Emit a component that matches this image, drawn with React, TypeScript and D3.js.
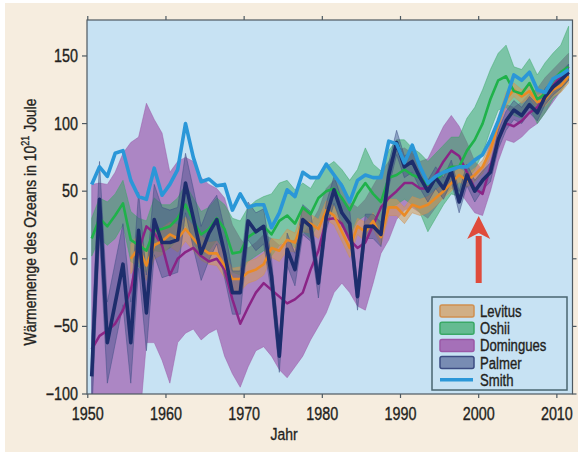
import React from 'react';
import * as d3 from 'd3';

// annual values (centre of each year), 10^21 J
const years = d3.range(1950, 2012);

const smith = [
  55, 68, 61, 78, 80, 58, 46, 44, 67, 47,
  55, 66, 100, 75, 57, 59, 54, 55, 36, 48,
  38, 40, 40, 23, 34, 51, 46, 64, 60, 60,
  70, 62, 54, 42, 58, 62, 60, 60, 87, 85,
  71, 84, 68, 56, 61, 64, 66, 68, 68, 73,
  77, 88, 102, 118, 136, 132, 138, 125, 123, 133,
  136, 140,
];

const oshii = [
  15, 30, 24, 32, 41, 14, 10, 6, 21, 22,
  24, 30, 40, 28, 18, 22, 30, 22, 4, 5,
  16, 20, 24, 18, 28, 32, 26, 38, 33, 45,
  50, 52, 45, 36, 48, 56, 48, 42, 60, 62,
  66, 62, 60, 55, 58, 64, 68, 68, 80, 88,
  100, 118, 132, 135, 124, 122, 130, 118, 122, 132,
  138, 142,
];
const oshiiHi = [
  30, 45, 42, 48, 58, 35, 30, 28, 45, 40,
  40, 45, 55, 45, 35, 38, 45, 40, 30, 28,
  38, 43, 46, 48, 56, 58, 51, 56, 52, 62,
  68, 72, 66, 58, 66, 82, 70, 65, 80, 88,
  88, 82, 78, 72, 78, 84, 90, 90, 104, 112,
  125, 140, 152, 158, 142, 140, 148, 136, 145, 152,
  158, 172,
];
const oshiiLo = [
  2, 15, 10, 15, 25, -2, -6, -10, 6, 5,
  8, 14, 25, 12, 2, 6, 14, 6, -10, -12,
  -2, 2, 6, 2, 10, 14, 8, 20, 15, 26,
  32, 34, 26, 16, 28, 32, 26, 20, 38, 40,
  44, 40, 34, 20, 30, 40, 48, 46, 58, 66,
  78, 95, 110, 112, 106, 104, 112, 100, 108, 118,
  124, 132,
];

const levitus = [
  null, null, null, null, null, 0, 8, -5, 10, 13,
  18, 15, 22, 15, 8, 4, 4, -5, -15, -15,
  -10, -8, -4, 8, 6, 14, 12, 28, 26, 22,
  36, 32, 20, 8, 24, 20, 28, 16, 38, 38,
  32, 40, 38, 40, 45, 50, 56, 62, 58, 62,
  68, 80, 100, 118, 125, 120, 124, 116, 118, 125,
  128, 135,
];
const levitusErr = [
  null, null, null, null, null, 11, 10, 11, 10, 10,
  9, 10, 9, 9, 9, 8, 9, 9, 8, 9,
  8, 8, 8, 7, 8, 8, 7, 8, 7, 7,
  7, 7, 7, 7, 6, 7, 6, 6, 6, 6,
  6, 6, 6, 6, 6, 5, 6, 5, 5, 5,
  5, 5, 5, 5, 5, 5, 5, 5, 5, 5,
  5, 5,
];

const domingues = [
  -67, -57, -53, -48, -38, -23, 6, 24, 19, 10,
  -12, 0, 5, 8, 2, -2, 0, -8, -30, -48,
  -36, -25, -18, -23, -28, -33, -30, -25, -8, 6,
  29, 30, 26, 14, 8, 12, 25, 38, 45, 50,
  56, 56, 52, 52, 62, 72, 80, 76, 64, 52,
  48, 68, 88, 100, 98, 102, 108, 112, 120, 128,
  135, 142,
];
const dominguesHi = [
  55, 56, 55, 64, 78, 86, 90, 115, 103, 93,
  64, 72, 75, 72, 60, 55, 52, 45, 25, 15,
  8, 12, 18, 15, 10, 12, 14, 18, 26, 36,
  52, 58, 56, 42, 38, 44, 54, 64, 72, 80,
  82, 78, 72, 74, 86, 98, 106, 98, 86, 72,
  66, 86, 102, 114, 112, 116, 122, 126, 134, 140,
  146, 152,
];
const dominguesLo = [
  -160, -160, -160, -155, -150, -140, -130, -62, -62, -75,
  -92, -62, -55, -52, -60, -55, -52, -72, -85, -95,
  -80, -68, -65, -72, -82, -88, -80, -72, -60, -50,
  -40, -25, -18, -25, -35, -38, -18, 4, 14, 29,
  36, 38, 34, 30, 38, 46, 52, 50, 42, 34,
  32, 50, 72, 88, 86, 90, 96, 100, 108, 116,
  124, 132,
];

const palmer = [
  -87, 44, -62, -33, -4, -62, 21, -40, 29, 12,
  12, 14, 56, 30, 4, 19, 29, 4, -25, -25,
  28, 20, 24, -13, -72, 7, -8, 29, 24, -18,
  31, 51, 34, 26, -28, 24, 24, 18, 62, 86,
  68, 72, 60, 50, 60, 52, 65, 42, 62, 50,
  58, 64, 88, 102, 110, 106, 114, 108, 120, 127,
  132, 138,
];
const palmerErr = [
  30, 28, 30, 30, 30, 30, 28, 28, 26, 26,
  24, 24, 22, 22, 20, 20, 18, 18, 16, 16,
  14, 14, 13, 13, 12, 12, 12, 11, 11, 11,
  10, 10, 10, 10, 10, 9, 9, 9, 9, 9,
  8, 8, 8, 8, 8, 8, 8, 8, 8, 8,
  7, 7, 7, 7, 7, 6, 6, 6, 6, 6,
  6, 6,
];

const yTicks = [-100, -50, 0, 50, 100, 150];
const xTicks = [1950, 1960, 1970, 1980, 1990, 2000, 2010];
const legendNames = ['Levitus', 'Oshii', 'Domingues', 'Palmer', 'Smith'];

// narrow look: Liberation Sans squeezed horizontally
const FONT = "'Liberation Sans', Arial, sans-serif";
const SQ = 0.82;
const INK = '#231f20';

const plot = { left: 87, right: 572.5, top: 20, bottom: 394 };
const x = d3.scaleLinear().domain([1949.9, 2012]).range([plot.left, plot.right]);
const y = d3.scaleLinear().domain([-100, 176.6]).range([plot.bottom, plot.top]);

type Row = { yr: number; mid: number | null; lo: number | null; hi: number | null };

const rows = (mid: (number | null)[], lo: (number | null)[], hi: (number | null)[]): Row[] =>
  years.map((yr, i) => ({ yr, mid: mid[i], lo: lo[i], hi: hi[i] }));

const withErr = (mid: (number | null)[], err: (number | null)[]) =>
  rows(
    mid,
    mid.map((v, i) => (v == null ? null : v - (err[i] as number))),
    mid.map((v, i) => (v == null ? null : v + (err[i] as number))),
  );

const series = [
  { name: 'Domingues', data: rows(domingues, dominguesLo, dominguesHi), band: '#9b4ea6', op: 0.62, edge: '#9a58a6', line: '#8a2486', lw: 2.5 },
  { name: 'Oshii', data: rows(oshii, oshiiLo, oshiiHi), band: '#2fa65c', op: 0.5, edge: '#3aa866', line: '#1fb24a', lw: 2.6 },
  { name: 'Levitus', data: withErr(levitus, levitusErr), band: '#d69a55', op: 0.55, edge: '#d09050', line: '#ea8a25', lw: 2.6 },
  { name: 'Palmer', data: withErr(palmer, palmerErr), band: '#3c4c82', op: 0.42, edge: '#3c4c82', line: '#1d2d6c', lw: 3.6 },
];
const smithRows = rows(smith, smith, smith);

const area = d3
  .area<Row>()
  .defined((d) => d.mid != null)
  .x((d) => x(d.yr + 0.5))
  .y0((d) => y(d.lo as number))
  .y1((d) => y(d.hi as number));

const line = d3
  .line<Row>()
  .defined((d) => d.mid != null)
  .x((d) => x(d.yr + 0.5))
  .y((d) => y(d.mid as number));

const Txt = ({ x: tx, y: ty, anchor = 'start', size = 17, rotate = 0, children }: any) => (
  <text
    transform={`translate(${tx},${ty}) rotate(${rotate}) scale(${SQ},1)`}
    textAnchor={anchor}
    fontSize={size}
    fill={INK}
    stroke={INK}
    strokeWidth={0.35}
  >
    {children}
  </text>
);

const App = () => {
  const lineOrder = ['Domingues', 'Levitus', 'Oshii', 'Palmer'];
  const legendStyle: Record<string, { band: string; op: number; line: string }> = {};
  series.forEach((s) => (legendStyle[s.name] = { band: s.band, op: s.op + 0.15, line: s.edge }));

  const arrowX = x(2000);

  return (
    <svg width={580} height={454} style={{ position: 'fixed', left: 0, top: 0 }} fontFamily={FONT}>
      <rect x={0} y={0} width={580} height={454} fill="#ffffff" />
      <rect x={5} y={3} width={573} height={449} fill="#f6eddf" />
      <defs>
        <clipPath id="plotClip">
          <rect x={plot.left} y={plot.top} width={plot.right - plot.left} height={plot.bottom - plot.top} />
        </clipPath>
      </defs>
      <rect x={plot.left} y={plot.top} width={plot.right - plot.left} height={plot.bottom - plot.top} fill="#c7e2f3" />

      <g clipPath="url(#plotClip)">
        {series.map((s) => (
          <path key={s.name + '-band'} d={area(s.data) || ''} fill={s.band} fillOpacity={s.op}
            stroke={s.edge} strokeOpacity={0.6} strokeWidth={0.8} />
        ))}
        {lineOrder.map((n) => {
          const s = series.find((d) => d.name === n)!;
          return (
            <path key={n + '-line'} d={line(s.data) || ''} fill="none" stroke={s.line}
              strokeWidth={s.lw} strokeLinejoin="round" />
          );
        })}
        <path d={line(smithRows) || ''} fill="none" stroke="#2a97d8" strokeWidth={3.6} strokeLinejoin="round" />
      </g>

      {/* frame */}
      <rect x={plot.left} y={plot.top} width={plot.right - plot.left} height={plot.bottom - plot.top}
        fill="none" stroke="#4d5961" strokeWidth={1.2} />

      {/* y ticks */}
      {yTicks.map((t) => (
        <g key={'y' + t}>
          <line x1={plot.left - 5} x2={plot.left} y1={y(t)} y2={y(t)} stroke="#4d5961" strokeWidth={1.2} />
          <line x1={plot.right} x2={plot.right + 4} y1={y(t)} y2={y(t)} stroke="#4d5961" strokeWidth={1.2} />
          <Txt x={plot.left - 9} y={y(t) + 6} anchor="end" size={17.5}>
            {t < 0 ? '\u2212' + Math.abs(t) : String(t)}
          </Txt>
        </g>
      ))}

      {/* x ticks */}
      {xTicks.map((t) => (
        <g key={'x' + t}>
          <line x1={x(t)} x2={x(t)} y1={plot.bottom} y2={plot.bottom + 4} stroke="#4d5961" strokeWidth={1.2} />
          <line x1={x(t)} x2={x(t)} y1={plot.top - 4} y2={plot.top} stroke="#4d5961" strokeWidth={1.2} />
          <Txt x={x(t)} y={419.5} anchor="middle" size={17.5}>{String(t)}</Txt>
        </g>
      ))}

      <Txt x={284} y={440} anchor="middle" size={17}>Jahr</Txt>
      <Txt x={36} y={222} anchor="middle" rotate={-90} size={17}>
        Wärmemenge des Ozeans in 10<tspan fontSize={11} dy={-7}>21</tspan><tspan dy={7}> Joule</tspan>
      </Txt>

      {/* red arrow */}
      <g fill="#df4b3b">
        <rect x={arrowX - 3} y={236} width={6} height={47} />
        <path d={`M${arrowX},216 L${arrowX + 11.5},239 L${arrowX},233 L${arrowX - 11.5},239 Z`} />
      </g>

      {/* legend */}
      <g>
        <rect x={432} y={297} width={135} height={93} fill="#c7e2f3" stroke="#4a6670" strokeWidth={1.5} />
        {legendNames.map((n, i) => {
          const cy = 311 + i * 17.2;
          return (
            <g key={n}>
              {n === 'Smith' ? (
                <line x1={440} x2={473} y1={cy} y2={cy} stroke="#2a97d8" strokeWidth={3.5} />
              ) : (
                <rect x={440} y={cy - 6} width={34} height={12} rx={2}
                  fill={legendStyle[n].band} fillOpacity={legendStyle[n].op}
                  stroke={legendStyle[n].line} strokeWidth={1.5} />
              )}
              <Txt x={480} y={cy + 6} size={16}>{n}</Txt>
            </g>
          );
        })}
      </g>
    </svg>
  );
};

export default App;
